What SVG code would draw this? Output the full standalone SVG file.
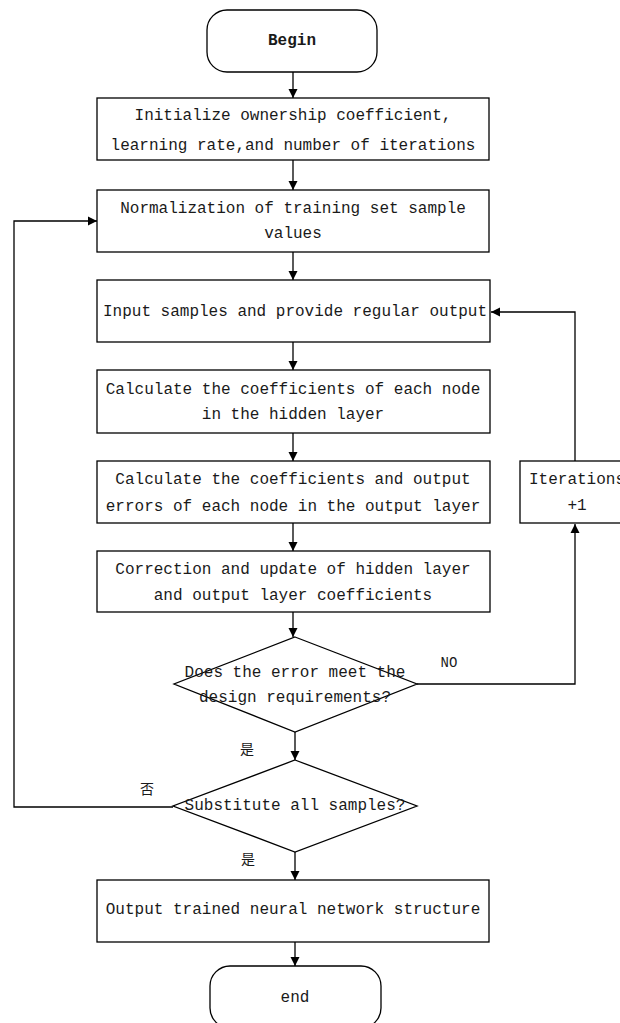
<svg xmlns="http://www.w3.org/2000/svg" width="620" height="1023" viewBox="0 0 620 1023">
<style>
.box{fill:#fff;stroke:#000;stroke-width:1.3}
.t{font-family:"Liberation Mono","Noto Sans CJK SC",monospace;font-size:16px;fill:#1a1a1a;text-anchor:middle;dominant-baseline:central}
.b{font-weight:bold}
.cj{font-family:"Noto Sans CJK SC",sans-serif;font-size:14px;fill:#1a1a1a;text-anchor:middle;dominant-baseline:central}
.lbl{font-family:"Liberation Mono",monospace;font-size:14px;fill:#1a1a1a;text-anchor:middle;dominant-baseline:central}
.c{fill:none;stroke:#000;stroke-width:1.3;marker-end:url(#ar)}
</style>
<defs>
<marker id="ar" markerWidth="10" markerHeight="10" refX="9" refY="5" orient="auto" markerUnits="userSpaceOnUse">
<path d="M0,0.5 L9,5 L0,9.5 Z" fill="#000"/>
</marker>
</defs>
<rect width="620" height="1023" fill="#fff"/>
<g id="connectors">
<path class="c" d="M293,72 L293,98"/>
<path class="c" d="M293,160 L293,190"/>
<path class="c" d="M293,252 L293,280"/>
<path class="c" d="M293,342 L293,370"/>
<path class="c" d="M293,433 L293,461"/>
<path class="c" d="M293,523 L293,551"/>
<path class="c" d="M293,612 L293,637"/>
<path class="c" d="M295,732 L295,760"/>
<path class="c" d="M295,852 L295,880"/>
<path class="c" d="M295,942 L295,966"/>
<path class="c" d="M417,684 L575,684 L575,524"/>
<path class="c" d="M575,461 L575,312 L491,312"/>
<path class="c" d="M173,807 L14,807 L14,221 L97,221"/>
<text class="lbl" x="449" y="663">NO</text>
<text class="cj" x="247" y="748">是</text>
<text class="cj" x="147" y="788">否</text>
<text class="cj" x="248" y="858">是</text>
</g>
<g id="begin">
<rect class="box" x="207" y="10" width="170" height="62" rx="20"/>
<text class="t b" x="292" y="41">Begin</text>
</g>
<g id="init">
<rect class="box" x="97" y="98" width="392" height="62"/>
<text class="t" x="293" y="116">Initialize ownership coefficient,</text>
<text class="t" x="293" y="146">learning rate,and number of iterations</text>
</g>
<g id="normalize">
<rect class="box" x="97" y="190" width="392" height="62"/>
<text class="t" x="293" y="209">Normalization of training set sample</text>
<text class="t" x="293" y="234">values</text>
</g>
<g id="input">
<rect class="box" x="97" y="280" width="393" height="62"/>
<text class="t" x="295" y="312">Input samples and provide regular output</text>
</g>
<g id="hidden">
<rect class="box" x="97" y="370" width="393" height="63"/>
<text class="t" x="293" y="390">Calculate the coefficients of each node</text>
<text class="t" x="293" y="415">in the hidden layer</text>
</g>
<g id="outputcalc">
<rect class="box" x="97" y="461" width="393" height="62"/>
<text class="t" x="293" y="480">Calculate the coefficients and output</text>
<text class="t" x="293" y="507">errors of each node in the output layer</text>
</g>
<g id="iterations">
<rect class="box" x="520" y="461" width="114" height="62"/>
<text class="t" x="577" y="480">Iterations</text>
<text class="t" x="577" y="506">+1</text>
</g>
<g id="correction">
<rect class="box" x="97" y="551" width="393" height="61"/>
<text class="t" x="293" y="570">Correction and update of hidden layer</text>
<text class="t" x="293" y="596">and output layer coefficients</text>
</g>
<g id="decision1">
<polygon class="box" points="295,637 417,684 295,732 174,684"/>
<text class="t" x="295" y="673">Does the error meet the</text>
<text class="t" x="295" y="698">design requirements?</text>
</g>
<g id="decision2">
<polygon class="box" points="295,760 417,806 295,852 173,806"/>
<text class="t" x="295" y="806">Substitute all samples?</text>
</g>
<g id="outputnet">
<rect class="box" x="97" y="880" width="392" height="62"/>
<text class="t" x="293" y="910">Output trained neural network structure</text>
</g>
<g id="end">
<rect class="box" x="210" y="966" width="171" height="62" rx="20"/>
<text class="t" x="295" y="998">end</text>
</g>
</svg>
